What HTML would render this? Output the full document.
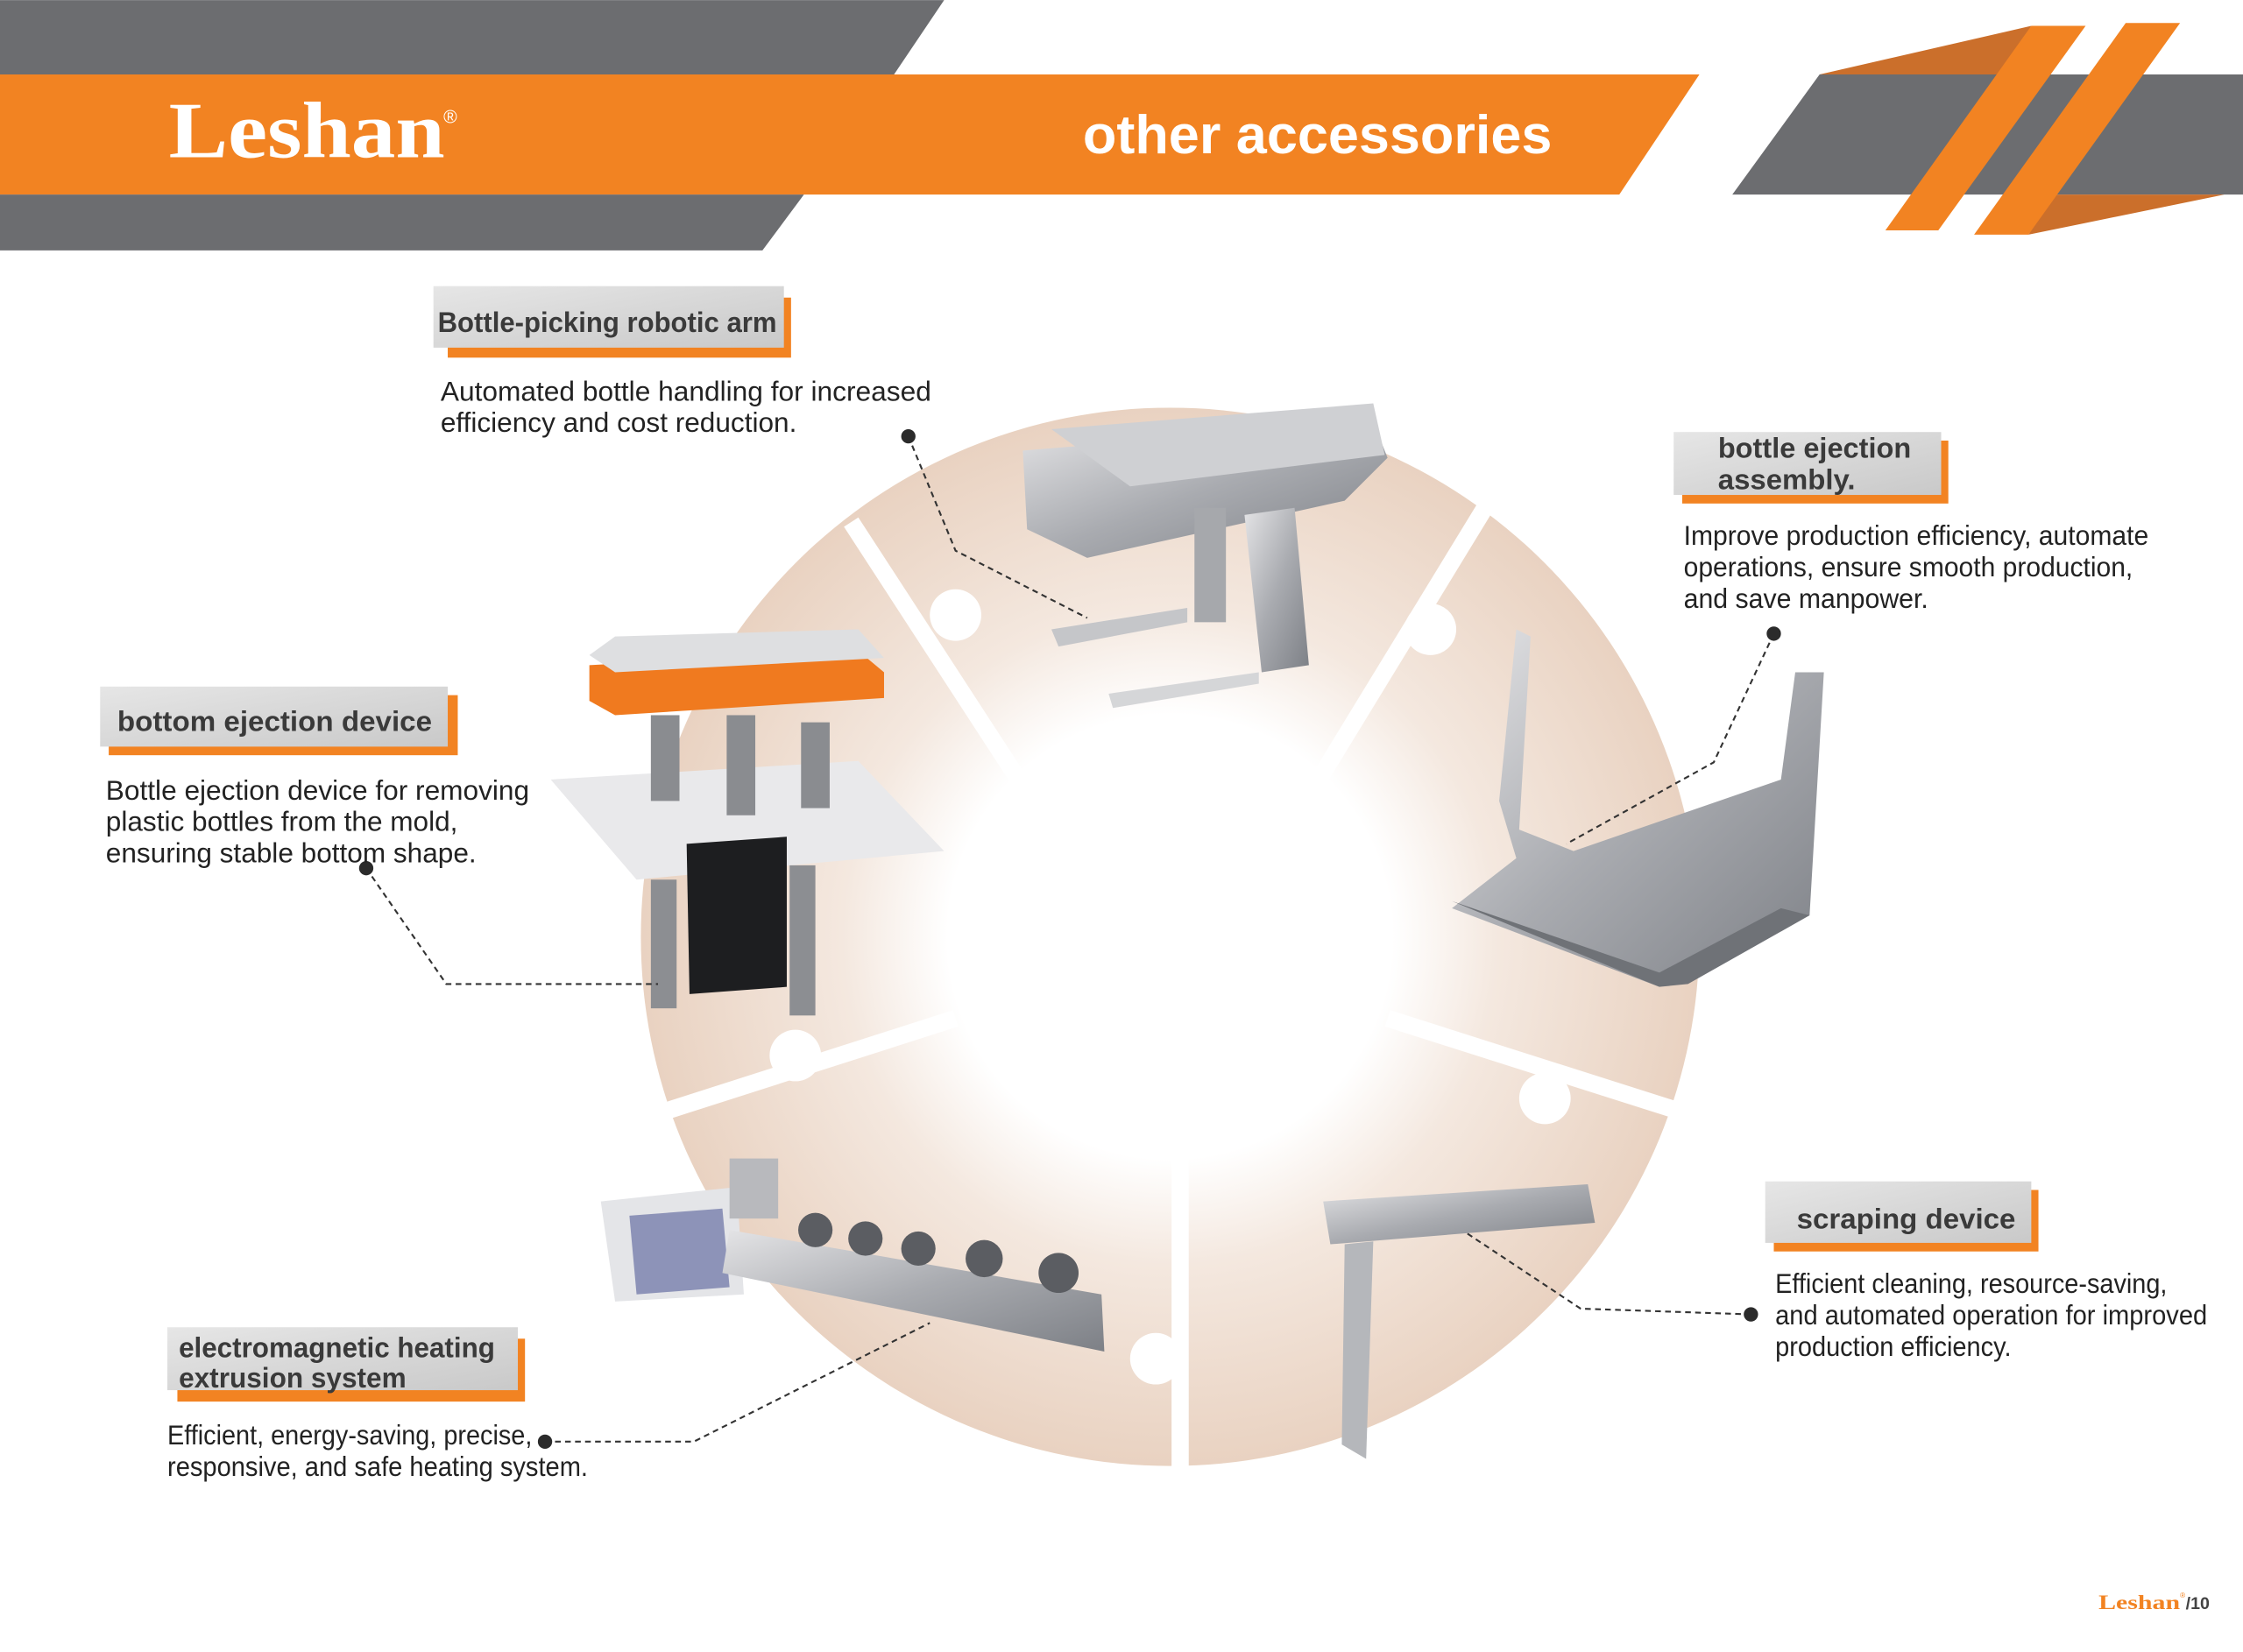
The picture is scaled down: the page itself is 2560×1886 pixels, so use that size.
<!DOCTYPE html>
<html><head><meta charset="utf-8"><style>
html,body{margin:0;padding:0;background:#fff;}
svg{display:block;}
.t{font-family:"Liberation Sans",Arial,sans-serif;}
</style></head><body>
<svg width="2560" height="1886" viewBox="0 0 1568 1155" xmlns="http://www.w3.org/2000/svg">
<defs>
<radialGradient id="ring" cx="818" cy="655" r="370" gradientUnits="userSpaceOnUse">
<stop offset="0.42" stop-color="#ffffff"/>
<stop offset="0.62" stop-color="#f4e8df"/>
<stop offset="1" stop-color="#e9d2c1"/>
</radialGradient>
<linearGradient id="box" x1="0" y1="0" x2="1" y2="1">
<stop offset="0" stop-color="#e6e6e6"/><stop offset="1" stop-color="#c9c9c9"/>
</linearGradient>
<linearGradient id="metal" x1="0" y1="0" x2="1" y2="1">
<stop offset="0" stop-color="#e4e4e6"/><stop offset="0.5" stop-color="#a9abb0"/><stop offset="1" stop-color="#7d8086"/>
</linearGradient>
</defs>
<!-- header -->
<polygon points="0,0 660,0 625,52 0,52" fill="#6c6d70"/>
<polygon points="0,52 1188,52 1132,136 0,136" fill="#f28322"/>
<polygon points="0,136 562,136 533,175 0,175" fill="#6c6d70"/>
<polygon points="1272,52 1568,52 1568,136 1211,136" fill="#6c6d70"/>
<polygon points="1272,52 1420,18 1400,52" fill="#cb6f2b"/>
<polygon points="1418,164 1555,136 1436,136" fill="#cb6f2b"/>
<polygon points="1420,18 1458,18 1355,161 1318,161" fill="#f28322"/>
<polygon points="1486,16 1524,16 1418,164 1380,164" fill="#f28322"/>
<text x="118" y="110" font-family="Liberation Serif,serif" font-weight="bold" font-size="56" fill="#fff" textLength="193" lengthAdjust="spacingAndGlyphs">Leshan</text>
<text x="310" y="86" font-family="Liberation Sans,sans-serif" font-size="13" fill="#fff">®</text>
<text x="757" y="107" class="t" font-weight="bold" font-size="38" fill="#fff" textLength="328" lengthAdjust="spacingAndGlyphs">other accessories</text>
<!-- ring -->
<circle cx="818" cy="655" r="370" fill="url(#ring)"/>
<circle cx="818" cy="655" r="155" fill="#fff"/>
<g stroke="#fff" stroke-width="12">
<line x1="595" y1="365" x2="712" y2="545"/>
<line x1="1038" y1="355" x2="922" y2="545"/>
<line x1="970" y1="712" x2="1190" y2="782"/>
<line x1="825" y1="810" x2="825" y2="1040"/>
<line x1="440" y1="785" x2="668" y2="712"/>
</g>
<g fill="#fff">
<circle cx="668" cy="430" r="18"/><circle cx="1000" cy="440" r="18"/>
<circle cx="1080" cy="768" r="18"/><circle cx="808" cy="950" r="18"/><circle cx="556" cy="738" r="18"/>
</g>
<!-- devices (simplified) -->
<g>
<polygon points="715,315 960,295 970,320 940,350 760,390 718,370" fill="url(#metal)"/>
<polygon points="735,300 960,282 968,318 790,340" fill="#cfd0d3"/>
<rect x="835" y="355" width="22" height="80" fill="#a6a8ac"/>
<polygon points="870,360 905,355 915,465 882,470" fill="url(#metal)"/>
<polygon points="735,440 830,425 830,435 740,452" fill="#c5c6c9"/>
<polygon points="775,485 880,470 880,478 778,495" fill="#d5d6d8"/>
</g>
<g>
<polygon points="412,465 600,455 618,470 618,488 430,500 412,490" fill="#f07a1f"/>
<polygon points="412,458 430,445 600,440 618,460 430,470" fill="#dedfe1"/>
<polygon points="385,545 600,532 660,595 445,615" fill="#e9e9eb"/>
<rect x="455" y="500" width="20" height="60" fill="#8a8c90"/>
<rect x="508" y="500" width="20" height="70" fill="#8a8c90"/>
<rect x="560" y="505" width="20" height="60" fill="#8a8c90"/>
<polygon points="480,590 550,585 550,690 482,695" fill="#1d1e20"/>
<rect x="455" y="615" width="18" height="90" fill="#8c8e92"/>
<rect x="552" y="605" width="18" height="105" fill="#8c8e92"/>
</g>
<g>
<polygon points="1048,560 1060,440 1070,445 1062,580 1100,595 1245,545 1255,470 1275,470 1265,640 1160,690 1015,635 1060,600" fill="url(#metal)"/>
<polygon points="1015,630 1160,690 1180,688 1265,640 1245,635 1160,680" fill="#6f7277"/>
</g>
<g>
<polygon points="420,840 515,830 520,905 430,910" fill="#e4e5e8"/>
<polygon points="440,850 505,845 510,900 445,905" fill="#8d93b8"/>
<polygon points="510,860 770,905 772,945 505,890" fill="url(#metal)"/>
<rect x="510" y="810" width="34" height="42" fill="#b8b9bd"/>
<g fill="#5b5d62"><circle cx="570" cy="860" r="12"/><circle cx="605" cy="866" r="12"/><circle cx="642" cy="873" r="12"/><circle cx="688" cy="880" r="13"/><circle cx="740" cy="890" r="14"/></g>
</g>
<g>
<polygon points="925,840 1110,828 1115,855 930,870" fill="url(#metal)"/>
<polygon points="940,870 960,868 955,1020 938,1010" fill="#b5b7bb"/>
</g>
<!-- connectors -->
<g stroke="#333" stroke-width="1.3" stroke-dasharray="4,3" fill="none">
<polyline points="635,305 668,385 760,432"/>
<polyline points="1240,443 1198,533 1095,590"/>
<polyline points="256,607 312,688 460,688"/>
<polyline points="381,1008 485,1008 650,925"/>
<polyline points="1224,919 1105,915 1025,862"/>
</g>
<g fill="#2b2b2b">
<circle cx="635" cy="305" r="5"/><circle cx="1240" cy="443" r="5"/><circle cx="256" cy="607" r="5"/><circle cx="381" cy="1008" r="5"/><circle cx="1224" cy="919" r="5"/>
</g>
<!-- labels -->
<g class="t">
<rect x="313" y="208" width="240" height="42" fill="#f28322"/>
<rect x="303" y="200" width="245" height="43" fill="url(#box)"/>
<text x="306" y="232" font-size="20" font-weight="bold" fill="#3a3a3a" textLength="237" lengthAdjust="spacingAndGlyphs">Bottle-picking robotic arm</text>
<text x="308" y="280" font-size="19" fill="#222" textLength="343" lengthAdjust="spacingAndGlyphs">Automated bottle handling for increased</text>
<text x="308" y="302" font-size="19" fill="#222" textLength="249" lengthAdjust="spacingAndGlyphs">efficiency and cost reduction.</text>

<rect x="1176" y="308" width="186" height="44" fill="#f28322"/>
<rect x="1170" y="302" width="187" height="44" fill="url(#box)"/>
<text x="1201" y="320" font-size="20" font-weight="bold" fill="#3a3a3a" textLength="135" lengthAdjust="spacingAndGlyphs">bottle ejection</text>
<text x="1201" y="342" font-size="20" font-weight="bold" fill="#3a3a3a" textLength="96" lengthAdjust="spacingAndGlyphs">assembly.</text>
<text x="1177" y="381" font-size="19" fill="#222" textLength="325" lengthAdjust="spacingAndGlyphs">Improve production efficiency, automate</text>
<text x="1177" y="403" font-size="19" fill="#222" textLength="314" lengthAdjust="spacingAndGlyphs">operations, ensure smooth production,</text>
<text x="1177" y="425" font-size="19" fill="#222" textLength="171" lengthAdjust="spacingAndGlyphs">and save manpower.</text>

<rect x="76" y="486" width="244" height="42" fill="#f28322"/>
<rect x="70" y="480" width="243" height="42" fill="url(#box)"/>
<text x="82" y="511" font-size="20" font-weight="bold" fill="#3a3a3a" textLength="220" lengthAdjust="spacingAndGlyphs">bottom ejection device</text>
<text x="74" y="559" font-size="19" fill="#222" textLength="296" lengthAdjust="spacingAndGlyphs">Bottle ejection device for removing</text>
<text x="74" y="581" font-size="19" fill="#222" textLength="246" lengthAdjust="spacingAndGlyphs">plastic bottles from the mold,</text>
<text x="74" y="603" font-size="19" fill="#222" textLength="259" lengthAdjust="spacingAndGlyphs">ensuring stable bottom shape.</text>

<rect x="124" y="936" width="243" height="44" fill="#f28322"/>
<rect x="117" y="928" width="245" height="44" fill="url(#box)"/>
<text x="125" y="949" font-size="20" font-weight="bold" fill="#3a3a3a" textLength="221" lengthAdjust="spacingAndGlyphs">electromagnetic heating</text>
<text x="125" y="970" font-size="20" font-weight="bold" fill="#3a3a3a" textLength="159" lengthAdjust="spacingAndGlyphs">extrusion system</text>
<text x="117" y="1010" font-size="19" fill="#222" textLength="255" lengthAdjust="spacingAndGlyphs">Efficient, energy-saving, precise,</text>
<text x="117" y="1032" font-size="19" fill="#222" textLength="294" lengthAdjust="spacingAndGlyphs">responsive, and safe heating system.</text>

<rect x="1240" y="832" width="185" height="43" fill="#f28322"/>
<rect x="1234" y="826" width="186" height="43" fill="url(#box)"/>
<text x="1256" y="859" font-size="20" font-weight="bold" fill="#3a3a3a" textLength="153" lengthAdjust="spacingAndGlyphs">scraping device</text>
<text x="1241" y="904" font-size="19" fill="#222" textLength="274" lengthAdjust="spacingAndGlyphs">Efficient cleaning, resource-saving,</text>
<text x="1241" y="926" font-size="19" fill="#222" textLength="302" lengthAdjust="spacingAndGlyphs">and automated operation for improved</text>
<text x="1241" y="948" font-size="19" fill="#222" textLength="165" lengthAdjust="spacingAndGlyphs">production efficiency.</text>
</g>
<text x="1467" y="1125" font-family="Liberation Serif,serif" font-weight="bold" font-size="14" fill="#f28322" textLength="57" lengthAdjust="spacingAndGlyphs">Leshan</text>
<text x="1524" y="1117" font-size="5" fill="#f28322" class="t">®</text>
<text x="1528" y="1125" class="t" font-weight="bold" font-size="12" fill="#444">/10</text>
</svg>
</body></html>
